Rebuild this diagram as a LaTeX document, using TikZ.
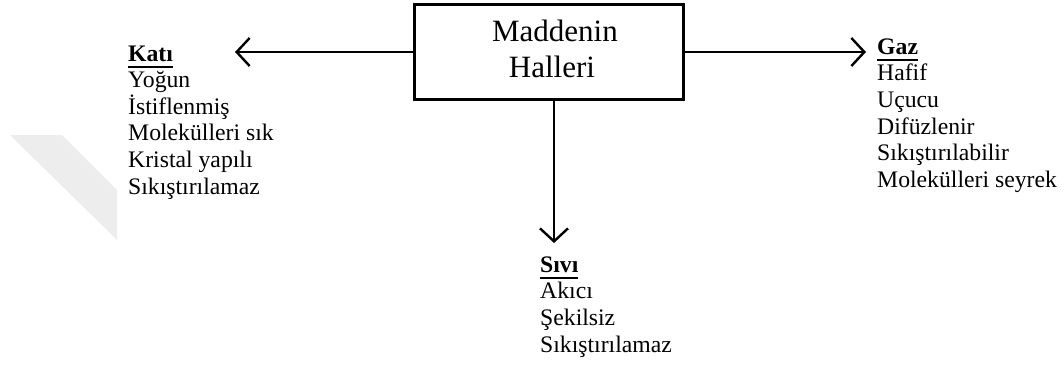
\documentclass[tikz,border=0pt]{standalone}
\usepackage{fontspec}
\setmainfont{Liberation Serif}
\usetikzlibrary{arrows.meta}

% bold heading with a rule a little below its baseline
\newcommand\ulhead[1]{\setbox0\hbox{\bfseries #1}\rlap{\rule[-6.8pt]{\wd0}{2.2pt}}\box0}

\tikzset{
  frame/.style={draw, line width=3pt, minimum width=269pt, minimum height=95pt,
                inner sep=0pt, align=center, font=\fontsize{31}{36}\selectfont},
  conn/.style={line width=2.4pt, -{Straight Barb[length=13pt,width=28pt,line width=2.4pt]}},
  item/.style={anchor=base west, inner sep=0pt, font=\fontsize{23.7}{26.7}\selectfont}
}

\begin{document}
\begin{tikzpicture}[x=1pt,y=-1pt]
  \useasboundingbox (0,0) rectangle (1064,365);

  % faint band on the left
  \fill[black!7] (10,135) -- (62,135) -- (117,190) -- (117,240) -- cycle;

  \node[frame] (box) at (549,52) {\hspace*{12pt}Maddenin\\\hspace*{6pt}Halleri\rule[-6pt]{0pt}{0pt}};

  % left list
  \node[item] (kati0) at (128,61) {\ulhead{Katı}};
  \foreach \t [count=\i] in {Yoğun,İstiflenmiş,Molekülleri sık,Kristal yapılı,Sıkıştırılamaz}
    \node[item] (kati\i) at (128,{61+26.6*\i}) {\t};

  % right list
  \node[item] (gaz0) at (877,54) {\ulhead{Gaz}};
  \foreach \t [count=\i] in {Hafif,Uçucu,Difüzlenir,Sıkıştırılabilir,Molekülleri seyrek}
    \node[item] (gaz\i) at (877,{54+26.7*\i}) {\t};

  % bottom list
  \node[item] (sivi0) at (540,272) {\ulhead{Sıvı}};
  \foreach \t [count=\i] in {Akıcı,Şekilsiz,Sıkıştırılamaz}
    \node[item] (sivi\i) at (540,{272+26.7*\i}) {\t};

  % arrow tips
  \coordinate (katiTip) at (235,52);
  \coordinate (gazTip) at (866,52);
  \coordinate (siviTip) at (554,243);

  \draw[conn] (box.west |- katiTip) -- (katiTip);
  \draw[conn] (box.east |- gazTip) -- (gazTip);
  \draw[conn] (box.south -| siviTip) -- (siviTip);
\end{tikzpicture}
\end{document}
